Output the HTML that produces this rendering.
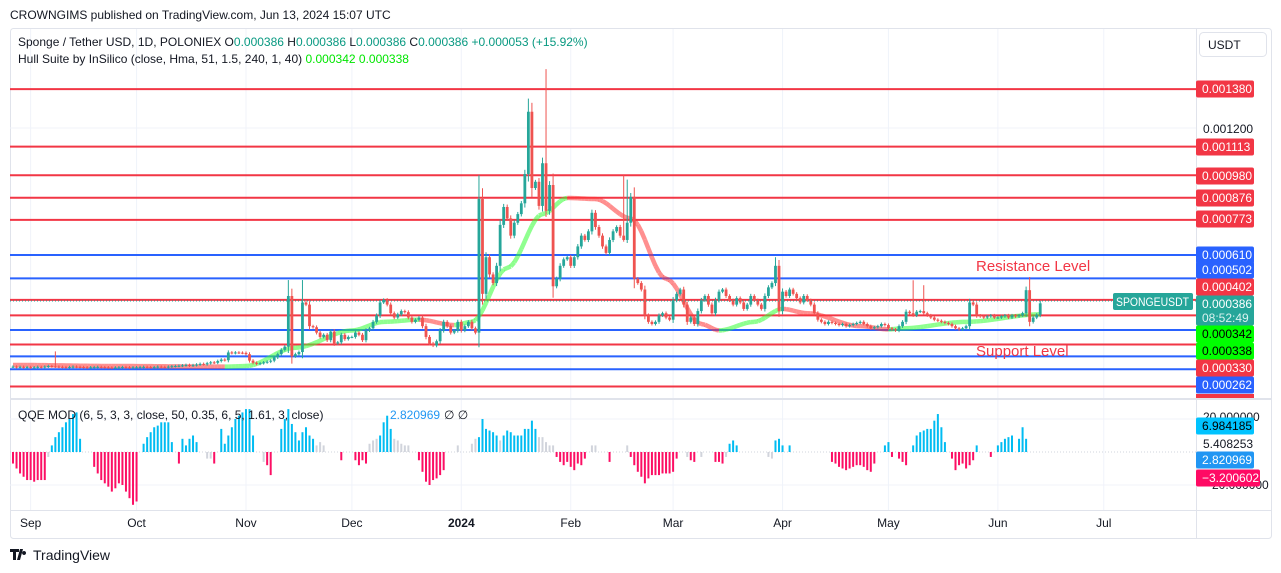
<!DOCTYPE html>
<html><head><meta charset="utf-8">
<style>
body{margin:0;background:#fff;font-family:"Liberation Sans",sans-serif;}
#wrap{position:relative;width:1281px;height:573px;overflow:hidden;background:#fff;}
svg text{font-family:"Liberation Sans",sans-serif;}
</style></head>
<body>
<div id="wrap">
<svg id="svg" width="1281" height="573" viewBox="0 0 1281 573">
  <text x="10" y="19" font-size="12" fill="#131722">CROWNGIMS published on TradingView.com, Jun 13, 2024 15:07 UTC</text>
  <rect x="10.5" y="28.5" width="1261" height="510" rx="3" fill="#fff" stroke="#e0e3eb"/>
  <g id="grid"></g>
  <g id="levels"></g>
  <g id="hull"></g>
  <g id="candles"></g>
  <g id="qqe"></g>
  <line x1="10" y1="301" x2="1196" y2="301" stroke="#26a69a" stroke-dasharray="1,2"/>
  <line x1="1196.5" y1="28" x2="1196.5" y2="538" stroke="#e0e3eb"/>
  <line x1="10" y1="399" x2="1272" y2="399" stroke="#e0e3eb" stroke-width="2"/>
  <line x1="10" y1="510.5" x2="1272" y2="510.5" stroke="#e0e3eb"/>
  <text x="976" y="271" font-size="15" fill="#f23645">Resistance Level</text>
  <text x="976" y="356" font-size="15" fill="#f23645">Support Level</text>
  <text x="18" y="46" font-size="12" fill="#131722">Sponge / Tether USD, 1D, POLONIEX  O<tspan fill="#089981">0.000386</tspan>  H<tspan fill="#089981">0.000386</tspan>  L<tspan fill="#089981">0.000386</tspan>  C<tspan fill="#089981">0.000386</tspan>  <tspan fill="#089981">+0.000053 (+15.92%)</tspan></text>
  <text x="18" y="63" font-size="12" fill="#131722">Hull Suite by InSilico (close, Hma, 51, 1.5, 240, 1, 40)  <tspan fill="#00e600">0.000342</tspan>  <tspan fill="#00e600">0.000338</tspan></text>
  <text x="18" y="419" font-size="12" fill="#131722">QQE MOD (6, 5, 3, 3, close, 50, 0.35, 6, 5, 1.61, 3, close)</text>
  <text x="390" y="419" font-size="12" fill="#2196f3">2.820969</text>
  <text x="444" y="419" font-size="12" fill="#131722">∅  ∅</text>
  <rect x="1199.5" y="32.5" width="67" height="24" rx="4" fill="#fff" stroke="#e0e3eb"/>
  <text x="1208" y="49" font-size="12" fill="#131722">USDT</text>
  <text x="1203" y="133" font-size="12" fill="#131722">0.001200</text>
  <text x="1203" y="421" font-size="12" fill="#131722">20.000000</text>
  <text x="1203" y="448" font-size="12" fill="#131722">5.408253</text>
  <text x="1208" y="489" font-size="12" fill="#131722">-20.000000</text>
  <g id="labels"></g>
  <rect x="1113" y="293" width="80" height="17" rx="2" fill="#26a69a"/>
  <text x="1116" y="306" font-size="12" fill="#fff" textLength="73" lengthAdjust="spacingAndGlyphs">SPONGEUSDT</text>
  <g id="times"></g>
  <g>
    <path d="M10 549h9v3h-3v8h-3v-8h-3z M20 549h3l-3 11h-3z M24 551a2 2 0 1 0 .1 0z" fill="#131722"/>
    <text x="33" y="560" font-size="14" fill="#131722">TradingView</text>
  </g>
</svg>
</div>
<script>
// ---- data ----
const closes = [
92,90,91,89,90,88,89,91,90,92,95,93,92,91,90,89,90,92,91,90,89,88,89,90,91,90,89,88,87,88,89,90,89,88,89,
89,90,91,90,89,90,92,91,90,92,94,95,96,98,100,97,99,102,105,103,108,112,110,118,125,122,158,155,158,157,156,
150,120,110,105,108,112,115,120,135,150,170,185,420,140,150,160,390,380,280,275,250,230,240,215,255,200,205,240,220,230,
230,250,240,215,260,270,300,330,390,402,380,340,320,335,350,345,320,300,310,320,280,230,200,190,210,260,300,280,250,260,300,
260,280,300,270,250,870,430,600,520,480,560,750,833,780,700,760,800,850,986,1275,921,950,838,1036,815,935,465,500,560,590,600,
560,600,650,700,680,720,806,740,700,650,620,680,720,740,700,680,760,880,500,480,450,330,300,290,300,330,340,320,310,
400,430,450,380,300,320,290,350,400,420,380,340,400,440,450,420,400,380,410,390,360,380,420,400,380,360,420,460,480,560,350,
440,420,450,430,410,390,420,400,380,340,310,300,290,300,295,290,285,290,280,285,290,295,300,290,280,270,275,280,290,285,
270,265,260,280,300,347,340,330,347,350,340,330,320,310,305,300,295,290,280,270,265,270,280,390,380,330,325,320,325,330,320,
320,325,330,320,330,325,330,340,447,300,320,333,386];
const spikeIdx = [12,78,82,132,146,151,173,174,216,255,258,288];
const spikeHigh = [163,494,494,980,1336,1473,980,960,600,493,470,508];
const hullIdx = [0,30,60,66,80,96,105,115,125,130,140,150,157,165,175,185,195,200,210,218,225,240,248,252,270,291];
const hullVal = [100,95,92,95,180,260,300,310,285,300,550,800,875,870,780,500,290,260,300,360,340,280,265,270,300,335];
const qqe = [
-7,-10,-13,-15,-17,-17,-18,-17,-17,-17,-3,4,9,12,15,18,20,23,24,8,0,0,0,
-9,-13,-17,-19,-21,-24,-22,-19,-20,-24,-28,-32,-30,0,5,9,12,15,16,18,18,18,6,0,-7,8,4,8,10,6,0,0,-4,-4,-7,0,
14,5,10,15,20,22,24,26,26,10,0,0,-6,-8,-14,0,0,14,20,26,17,12,7,12,15,10,8,4,6,4,0,0,0,0,-5,0,0,0,
-5,-8,-5,-7,5,7,8,10,18,22,14,8,7,5,4,4,0,0,-5,-12,-18,-20,-17,-16,-14,-11,0,0,0,4,0,0,0,5,8,
9,20,14,13,12,10,7,10,13,12,10,10,10,14,14,19,14,9,9,6,4,4,-3,-6,-8,-6,-9,-11,-7,-8,-4,0,4,4,0,0,0,-6,0,0,0,0,4,
-3,-8,-12,-15,-19,-16,-14,-14,-14,-13,-13,-13,-12,-4,0,0,-3,-5,-6,0,-3,0,0,0,-6,-6,-7,-3,5,7,4,0,0,0,0,0,0,0,0,-3,-4,7,8,4,0,4,
0,0,0,0,0,0,0,0,0,0,0,-6,-7,-9,-10,-11,-10,-9,-8,-8,-9,-11,-12,-7,0,0,4,6,-3,0,-4,-6,-8,0,
4,10,12,13,14,14,19,23,15,6,0,-4,-11,-8,-7,-10,-8,-5,4,0,0,0,-3,0,4,6,8,9,10,0,8,15,8,0,0,0,0];
const qqeNeutral = [10,55,56,71,86,87,88,101,102,103,108,109,110,111,112,126,130,131,138,149,150,151,152,153,164,165,174,191,195,202,214,215];
const levelPrices = [1380,1113,980,876,773,610,502,402,330,262,195,140,80,0];
const levelKinds = ['r','r','r','r','r','b','b','r','r','b','r','b','b','r'];
const monthNames = ['Sep','Oct','Nov','Dec','2024','Feb','Mar','Apr','May','Jun','Jul'];
const monthDayIdx = [5,35,66,96,127,158,187,218,248,279,309];
const labelTexts = ['0.001380','0.001113','0.000980','0.000876','0.000773','0.000610','0.000502','0.000402','0.000386','0.000342','0.000338','0.000330','0.000262'];

// ---- scales ----
const NS='http://www.w3.org/2000/svg';
const xOf = i => 13 + i*3.53;
const yOf = p => 386.5 - p*0.2155;
const qY = v => 452 - v*1.65;
function mk(tag, attrs, parent){const e=document.createElementNS(NS,tag);for(const k in attrs)e.setAttribute(k,attrs[k]);parent.appendChild(e);return e;}
const G=id=>document.getElementById(id);
const RED='#f23645', BLUE='#2962ff';

monthNames.forEach((m,k)=>{
  const x=xOf(monthDayIdx[k]);
  const l=mk('line',{x1:x,y1:29,x2:x,y2:510,stroke:'#f0f3fa'},G('grid'));
  
  
  const t=mk('text',{x:x,y:527,'font-size':12,'text-anchor':'middle',fill:'#131722','font-weight':m==='2024'?'bold':'normal'},G('times'));
  t.textContent=m;
  
  
});
[128,419,485].forEach(y=>{
  const l=mk('line',{x1:10,y1:y,x2:1196,y2:y,stroke:'#f0f3fa'},G('grid'));
  
  
});
{const z=mk('line',{x1:10,y1:452,x2:1196,y2:452,stroke:'#d1d4dc','stroke-dasharray':'1,2'},G('grid'));

}

levelPrices.forEach((p,k)=>{
  const y=yOf(p);
  const l=mk('line',{x1:10,y1:y,x2:1196,y2:y,stroke:levelKinds[k]==='r'?RED:BLUE,'stroke-width':2},G('levels'));
  
  
});

{
  const pts=[];
  for(let k=0;k<hullIdx.length-1;k++){
    for(let i=hullIdx[k];i<hullIdx[k+1];i++){
      const t=(i-hullIdx[k])/(hullIdx[k+1]-hullIdx[k]);
      const s=t*t*(3-2*t);
      pts.push([i,hullVal[k]+(hullVal[k+1]-hullVal[k])*s]);
    }
  }
  pts.push([hullIdx[hullIdx.length-1],hullVal[hullVal.length-1]]);
  for(let k=0;k<pts.length-1;k++){
    const up=pts[k+1][1]>=pts[k][1];
    const l=mk('line',{x1:xOf(pts[k][0]),y1:yOf(pts[k][1]),x2:xOf(pts[k+1][0]),y2:yOf(pts[k+1][1]),stroke:up?'#33ff33':'#ff3333','stroke-width':4.5,'stroke-linecap':'butt','stroke-opacity':0.55},G('hull'));
    
    
  }
}

closes.forEach((c,i)=>{
  const o=i===0?c:closes[i-1];
  const up=c>=o;
  const col=up?'#26a69a':'#ef5350';
  let hi=Math.max(o,c)+6+0.1*Math.abs(c-o);
  const lo=Math.max(0,Math.min(o,c)-6-0.1*Math.abs(c-o));
  const si=spikeIdx.indexOf(i); if(si>=0) hi=spikeHigh[si];
  const x=xOf(i);
  const w=mk('line',{x1:x,y1:yOf(hi),x2:x,y2:yOf(lo),stroke:col,'stroke-width':1},G('candles'));
  
  
  const yt=yOf(Math.max(o,c)), yb=yOf(Math.min(o,c));
  const b=mk('rect',{x:x-1.4,y:yt,width:2.8,height:Math.max(1,yb-yt),fill:col},G('candles'));
  
  
});

qqe.forEach((v,i)=>{
  if(v===0)return;
  const col=qqeNeutral.includes(i)?'#d1d4dc':(v>0?'#00bcf2':'#fc0f64');
  const y0=qY(0), y1=qY(v);
  const r=mk('rect',{x:xOf(i)-1,y:Math.min(y0,y1),width:2,height:Math.abs(y1-y0),fill:col},G('qqe'));
  
  
});

const labelY=[89,147,176,198,219,255,270,287,304,334,351,368,385];
const labelFill=[RED,RED,RED,RED,RED,BLUE,BLUE,RED,'#26a69a','#00ff00','#00ff00',RED,BLUE];
labelTexts.forEach((t,k)=>{
  const y=labelY[k];
  const h=k===8?30:17;
  const r=mk('rect',{x:1196,y:y-8.5,width:58,height:h,rx:2,fill:labelFill[k]},G('labels'));
  
  
  const tx=mk('text',{x:1202,y:y+4,'font-size':12,fill:(k===9||k===10)?'#000':'#fff'},G('labels'));
  tx.textContent=t;
  
  
});
{const tt=mk('text',{x:1202,y:322,'font-size':12,fill:'#d9f2ef'},G('labels'));
tt.textContent='08:52:49';


const rb=mk('rect',{x:1196,y:394,width:58,height:4,fill:RED},G('labels'));


const qLab=[['6.984185',426,'#00c3ff','#000'],['2.820969',460,'#2196f3','#fff'],['\u22123.200602',478,'#ff0a64','#fff']];
qLab.forEach(q=>{
  const r=mk('rect',{x:1196,y:q[1]-8.5,width:q[0].length>8?64:58,height:17,rx:2,fill:q[2]},G('labels'));
  
  
  const t=mk('text',{x:1202,y:q[1]+4,'font-size':12,fill:q[3]},G('labels'));
  t.textContent=q[0];
  
  
});}
</script>
</body></html>
